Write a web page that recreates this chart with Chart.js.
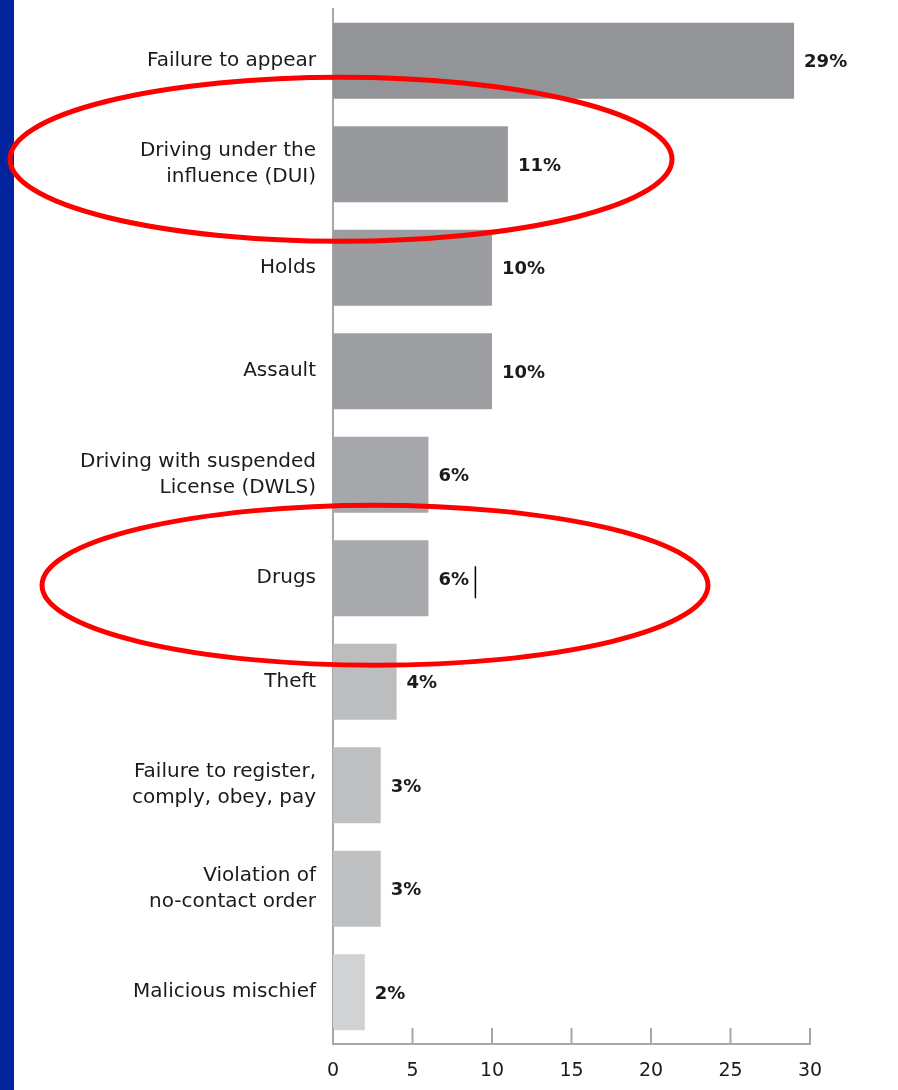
<!DOCTYPE html>
<html>
<head>
<meta charset="utf-8">
<script src="https://cdn.jsdelivr.net/npm/chart.js@4"></script>
<style>
    html, body { margin: 0; padding: 0; background: #fff; }
    #wrap { position: relative; width: 898px; height: 1090px; }
    #strip { position: absolute; left: 0; top: 0; width: 14px; height: 1090px; background: #01239b; }
    canvas { position: absolute; left: 0; top: 0; }
</style>
</head>
<body>
<div id="wrap">
    <div id="strip"></div>
    <canvas id="offenseChart" width="898" height="1090"></canvas>
</div>
<script>
const categories = [
    'Failure to appear',
    ['Driving under the', 'influence (DUI)'],
    'Holds',
    'Assault',
    ['Driving with suspended', 'License (DWLS)'],
    'Drugs',
    'Theft',
    ['Failure to register,', 'comply, obey, pay'],
    ['Violation of', 'no-contact order'],
    'Malicious mischief'
];
const percents = [29, 11, 10, 10, 6, 6, 4, 3, 3, 2];
const barColors = ['#939497', '#98999c', '#9c9da0', '#9d9ea1', '#a6a7aa', '#a8a9ac', '#bcbdbf', '#bebfc1', '#bfc0c2', '#d1d2d4'];
const xTicks = [0, 5, 10, 15, 20, 25, 30];
const circled = [1, 5];   // categories ringed in red

const FONT = '"DejaVu Sans", sans-serif';

// value labels, inward ticks, red ellipses
const extras = {
    id: 'extras',
    afterDatasetsDraw(chart) {
        const { ctx, scales: { x, y } } = chart;
        const meta = chart.getDatasetMeta(0);
        ctx.save();
        ctx.font = 'bold 18px ' + FONT;
        ctx.fillStyle = '#1c1a1b';
        ctx.textBaseline = 'middle';
        meta.data.forEach((bar, i) => {
            ctx.fillText(percents[i] + '%', bar.x + 10, bar.y + 2);
        });

        // tick marks pointing up from the x axis
        ctx.strokeStyle = '#a7a7a9';
        ctx.lineWidth = 2;
        xTicks.forEach(v => {
            const px = x.getPixelForValue(v);
            ctx.beginPath();
            ctx.moveTo(px, y.bottom);
            ctx.lineTo(px, y.bottom - 16);
            ctx.stroke();
        });

        // text cursor after the Drugs label
        const d = meta.data[5];
        ctx.strokeStyle = '#000';
        ctx.lineWidth = 1.5;
        ctx.beginPath();
        ctx.moveTo(d.x + 47, d.y - 12);
        ctx.lineTo(d.x + 47, d.y + 20);
        ctx.stroke();

        ctx.strokeStyle = '#ff0000';
        ctx.lineWidth = 5;
        const shapes = [[341, -5, 331, 82], [375, 7, 333, 80]];
        circled.forEach((idx, k) => {
            const [cx, dy, rx, ry] = shapes[k];
            ctx.beginPath();
            ctx.ellipse(cx, y.getPixelForValue(idx) + dy, rx, ry, 0, 0, Math.PI * 2);
            ctx.stroke();
        });
        ctx.restore();
    }
};

new Chart(document.getElementById('offenseChart').getContext('2d'), {
    type: 'bar',
    data: {
        labels: categories,
        datasets: [{
            data: percents,
            backgroundColor: barColors,
            categoryPercentage: 1,
            barPercentage: 0.735
        }]
    },
    options: {
        indexAxis: 'y',
        responsive: false,
        animation: false,
        layout: { padding: { top: 9, right: 88, left: 0, bottom: 0 } },
        plugins: { legend: { display: false }, tooltip: { enabled: false } },
        scales: {
            x: {
                min: 0,
                max: 30,
                afterBuildTicks: s => { s.ticks = xTicks.map(v => ({ value: v })); },
                afterFit: s => { s.height = 46; },
                grid: { display: false, drawTicks: false },
                border: { display: true, color: '#a7a7a9', width: 2 },
                ticks: { padding: 16, color: '#1c1a1b', font: { family: FONT, size: 19 } }
            },
            y: {
                afterFit: s => { s.width = 333; s.paddingTop = 0; s.paddingBottom = 0; },
                grid: { display: false, drawTicks: false },
                border: { display: true, color: '#a7a7a9', width: 2 },
                ticks: { padding: 17, color: '#1c1a1b', font: { family: FONT, size: 20, lineHeight: 1.3 } }
            }
        }
    },
    plugins: [extras]
});
</script>
</body>
</html>
